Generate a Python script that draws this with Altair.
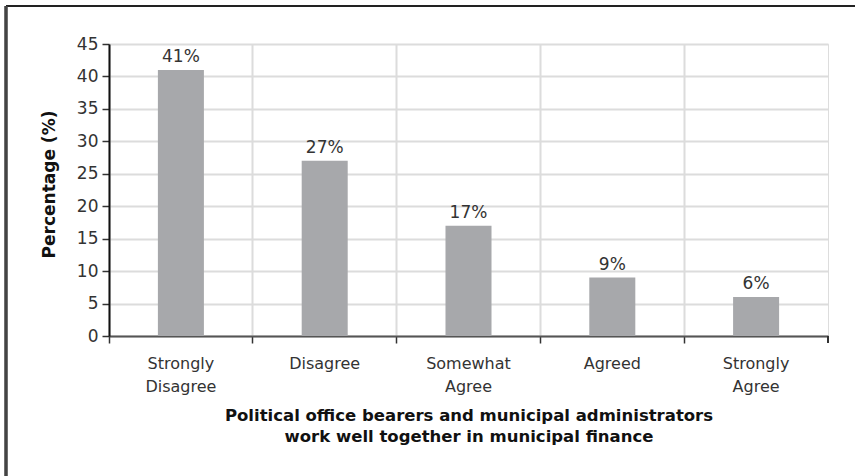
import altair as alt
import pandas as pd

categories = ["Strongly\nDisagree", "Disagree", "Somewhat\nAgree", "Agreed", "Strongly\nAgree"]
values = [41, 27, 17, 9, 6]
labels = ["41%", "27%", "17%", "9%", "6%"]

df = pd.DataFrame({"cat": categories, "val": values, "lab": labels})

W, H = 719, 292
FONT = "DejaVu Sans"

x = alt.X("cat:N", sort=categories,
          scale=alt.Scale(paddingInner=0, paddingOuter=0),
          axis=alt.Axis(title=["Political office bearers and municipal administrators",
                               "work well together in municipal finance"],
                        labelAngle=0, bandPosition=0,
                        labelExpr="split(datum.label, '\\n')",
                        labelFontSize=16, labelColor="#333", labelFont=FONT,
                        labelLineHeight=23, labelPadding=12, labelBaseline="top",
                        tickSize=7, tickColor="#333", tickWidth=1.5,
                        domainColor="#555", domainWidth=2,
                        grid=True, gridColor="#dcdcdc", gridWidth=2,
                        titleFont=FONT, titleFontSize=16.5, titleFontWeight="bold",
                        titleColor="#111", titlePadding=13, titleLineHeight=21))

y = alt.Y("val:Q", scale=alt.Scale(domain=[0, 45], nice=False),
          axis=alt.Axis(title="Percentage (%)", values=list(range(0, 46, 5)),
                        labelFontSize=17, labelColor="#333", labelFont=FONT,
                        labelPadding=4, tickSize=7, tickColor="#333", tickWidth=1.5,
                        labelOverlap=False,
                        domainColor="#111", domainWidth=2,
                        grid=True, gridColor="#dcdcdc", gridWidth=2,
                        titleFont=FONT, titleFontSize=17, titleFontWeight="bold",
                        titleColor="#111", titlePadding=18, titleY=H / 2 - 6))

bars = alt.Chart(df).mark_bar(color="#a7a8ab", width=alt.RelativeBandSize(0.32)).encode(x=x, y=y)
text = alt.Chart(df).mark_text(dy=-4, baseline="bottom", fontSize=17, font=FONT,
                               color="#333").encode(x=x, y=y, text="lab:N")

right_tick = alt.Chart(df).mark_rule(color="#333", strokeWidth=1.5).encode(
    x=alt.value(W), y=alt.value(H), y2=alt.value(H + 7))
top_border = alt.Chart(df).mark_rule(color="#222", strokeWidth=2).encode(
    x=alt.value(-103), x2=alt.value(W + 40), y=alt.value(-38))
left_border = alt.Chart(df).mark_rule(color="#444", strokeWidth=2.5).encode(
    x=alt.value(-103), y=alt.value(-38), y2=alt.value(H + 160))

chart = alt.layer(bars, text, right_tick, top_border, left_border).properties(
    width=W, height=H,
    autosize=alt.AutoSizeParams(type="none"),
    padding={"left": 109, "top": 44, "right": 27, "bottom": 140},
).configure_view(stroke="#111", strokeWidth=2).configure(background="white")

chart.save("out.html", embed_options={"renderer": "svg", "actions": False})
